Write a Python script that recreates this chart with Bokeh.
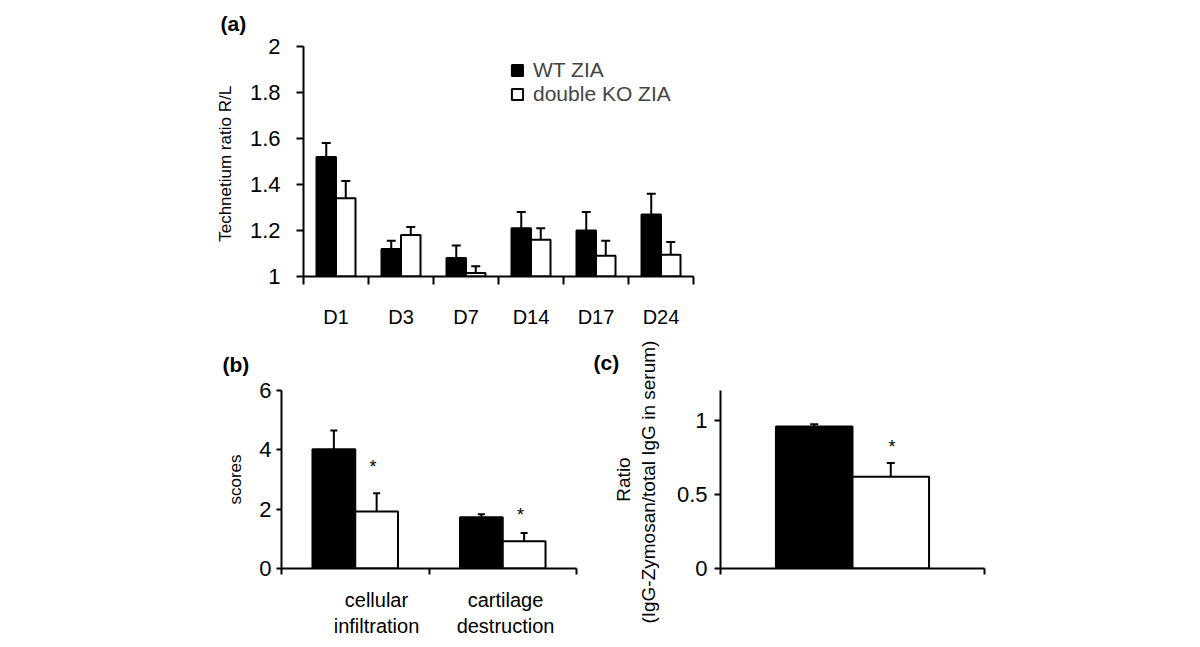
from bokeh.plotting import figure
from bokeh.models import (Range1d, FixedTicker, Whisker, TeeHead, ColumnDataSource,
                          Legend, LegendItem, Title)
from bokeh.layouts import column, row
from bokeh.core.properties import value
from bokeh.embed import file_html
from bokeh.resources import INLINE

# ---------------- data ----------------
days = ["D1", "D3", "D7", "D14", "D17", "D24"]
tech_wt = [1.52, 1.12, 1.08, 1.21, 1.20, 1.27]
tech_wt_err = [0.06, 0.035, 0.055, 0.07, 0.08, 0.09]
tech_ko = [1.34, 1.18, 1.015, 1.16, 1.09, 1.095]
tech_ko_err = [0.075, 0.035, 0.03, 0.05, 0.065, 0.055]
tech_ticks = [1, 1.2, 1.4, 1.6, 1.8, 2]
tech_tick_labels = ["1", "1.2", "1.4", "1.6", "1.8", "2"]

score_cats = ["cellular\ninfiltration", "cartilage\ndestruction"]
score_wt = [4.02, 1.73]
score_wt_err = [0.63, 0.10]
score_ko = [1.92, 0.92]
score_ko_err = [0.62, 0.28]
score_ticks = [0, 2, 4, 6]
score_star_y = [3.42, 1.82]

ratio_wt = [0.958]
ratio_wt_err = [0.014]
ratio_ko = [0.619]
ratio_ko_err = [0.093]
ratio_ticks = [0, 0.5, 1]
ratio_tick_labels = ["0", "0.5", "1"]
ratio_star_y = [0.822]

series_names = ["WT ZIA", "double KO ZIA"]
panel_titles = ["(a)", "(b)", "(c)"]
y_titles = ["Technetium  ratio R/L", "scores", "Ratio\n(IgG-Zymosan/total  IgG in serum)"]

FONT = "Liberation Sans"
HALF = 0.15


def base_style(p, tick_font="22px"):
    p.outline_line_color = None
    p.grid.visible = False
    p.background_fill_color = "white"
    p.border_fill_color = "white"
    for ax in (p.xaxis[0], p.yaxis[0]):
        ax.axis_line_width = 2
        ax.axis_line_color = "black"
        ax.major_tick_line_width = 2
        ax.major_tick_line_color = "black"
        ax.minor_tick_line_width = 2
        ax.minor_tick_line_color = "black"
        ax.major_tick_in = 0
        ax.minor_tick_in = 0
        ax.major_label_text_font = FONT
        ax.major_label_text_font_size = tick_font
        ax.major_label_text_color = "black"
        ax.axis_label_text_font = FONT
        ax.axis_label_text_font_style = "normal"
        ax.axis_label_text_color = "black"


def add_title(p, text, offset, standoff):
    p.add_layout(Title(text=text, align="left", offset=offset, standoff=standoff,
                       vertical_align="middle", text_font=FONT, text_font_size="21px",
                       text_font_style="bold", text_color="black"), "above")


def bars(p, centers, wt, wt_err, ko, ko_err, bottom, half, cap):
    src = ColumnDataSource(dict(
        xw=[c - half for c in centers], xk=[c + half for c in centers],
        wt=wt, ko=ko,
        wt_up=[v + e for v, e in zip(wt, wt_err)],
        ko_up=[v + e for v, e in zip(ko, ko_err)],
    ))
    for base, low, up in (("xw", "wt", "wt_up"), ("xk", "ko", "ko_up")):
        p.add_layout(Whisker(source=src, base=base, lower=low, upper=up,
                             dimension="height", line_width=2, line_color="black",
                             upper_head=TeeHead(size=cap, line_width=2, line_color="black"),
                             lower_head=None, level="underlay"))
    rw = p.vbar(x="xw", top="wt", bottom=bottom, width=2 * half, source=src,
                fill_color="black", line_color="black", line_width=2)
    rk = p.vbar(x="xk", top="ko", bottom=bottom, width=2 * half, source=src,
                fill_color="white", line_color="black", line_width=2)
    return rw, rk


# ---------------- panel (a) ----------------
pa = figure(width=708, height=330, x_range=Range1d(0.5, 6.5), y_range=Range1d(1, 2),
            output_backend="svg", toolbar_location=None,
            min_border_left=303, min_border_right=15, min_border_top=45, min_border_bottom=52)
base_style(pa)
xa = list(range(1, len(days) + 1))
pa.xaxis.ticker = FixedTicker(ticks=xa, minor_ticks=[c - 0.5 for c in xa] + [xa[-1] + 0.5])
pa.xaxis.major_label_overrides = {c: d for c, d in zip(xa, days)}
pa.xaxis.major_label_text_font_size = "20px"
pa.xaxis.major_tick_out = 0
pa.xaxis.minor_tick_out = 8
pa.xaxis.major_label_standoff = 21
pa.yaxis.ticker = FixedTicker(ticks=tech_ticks)
pa.yaxis.major_label_overrides = {float(t): s for t, s in zip(tech_ticks, tech_tick_labels)}
pa.yaxis.major_tick_out = 7
pa.yaxis.major_label_standoff = 16
pa.yaxis.axis_label = y_titles[0]
pa.yaxis.axis_label_text_font_size = "17px"
pa.yaxis.axis_label_standoff = 12
rw, rk = bars(pa, xa, tech_wt, tech_wt_err, tech_ko, tech_ko_err, 1, HALF, 9)
legend = Legend(items=[LegendItem(label=series_names[0], renderers=[rw]),
                       LegendItem(label=series_names[1], renderers=[rk])],
                location=(207, 170), glyph_width=14, glyph_height=14, label_standoff=9,
                label_text_font=FONT, label_text_font_size="21px", padding=0, spacing=0,
                border_line_color=None, background_fill_alpha=0, margin=0, label_height=20)
pa.add_layout(legend)
add_title(pa, panel_titles[0], -83, 21)

# ---------------- panel (b) ----------------
pb = figure(width=580, height=309, x_range=Range1d(0, 2), y_range=Range1d(0, 6),
            output_backend="svg", toolbar_location=None,
            min_border_left=281, min_border_right=4, min_border_top=59, min_border_bottom=59)
base_style(pb)
label_pos_b = [0.644, 1.519]
pb.xaxis.ticker = FixedTicker(ticks=label_pos_b, minor_ticks=[0, 1, 2])
pb.xaxis.major_label_overrides = {x: c for x, c in zip(label_pos_b, score_cats)}
pb.xaxis.major_label_text_font_size = "20px"
pb.xaxis.major_tick_out = 0
pb.xaxis.minor_tick_out = 6
pb.xaxis.major_label_standoff = 14
pb.yaxis.ticker = FixedTicker(ticks=score_ticks)
pb.yaxis.major_tick_out = 5
pb.yaxis.major_label_standoff = 5
pb.yaxis.axis_label = y_titles[1]
pb.yaxis.axis_label_text_font_size = "17px"
pb.yaxis.axis_label_standoff = 11
xb = [i + 0.5 for i in range(len(score_ko))]
bars(pb, xb, score_wt, score_wt_err, score_ko, score_ko_err, 0, HALF - 0.005, 7)
pb.text(x=[c + HALF - 0.03 for c in xb], y=score_star_y, text=["*"] * len(xb),
        text_font=value(FONT), text_font_size="18px", text_align="center",
        text_baseline="middle", text_color="black")
add_title(pb, panel_titles[1], -59, 27)

# ---------------- panel (c) ----------------
pc = figure(width=420, height=309, x_range=Range1d(0, 1), y_range=Range1d(0, 1.2),
            output_backend="svg", toolbar_location=None,
            min_border_left=140, min_border_right=16, min_border_top=60, min_border_bottom=61)
base_style(pc)
pc.xaxis.ticker = FixedTicker(ticks=[], minor_ticks=[0, 1])
pc.xaxis.major_tick_out = 0
pc.xaxis.minor_tick_out = 6
pc.yaxis.ticker = FixedTicker(ticks=ratio_ticks)
pc.yaxis.major_label_overrides = {float(t): s for t, s in zip(ratio_ticks, ratio_tick_labels)}
pc.yaxis.major_tick_out = 6
pc.yaxis.major_label_standoff = 7
pc.yaxis.axis_label = y_titles[2]
pc.yaxis.axis_label_text_font_size = "19px"
pc.yaxis.axis_label_standoff = 15
bars(pc, [0.5], ratio_wt, ratio_wt_err, ratio_ko, ratio_ko_err, 0, HALF - 0.005, 8)
pc.text(x=[0.5 + HALF], y=ratio_star_y, text=["*"], text_font=value(FONT),
        text_font_size="18px", text_align="center", text_baseline="middle", text_color="black")
add_title(pc, panel_titles[2], -127, 31)

layout = column(pa, row(pb, pc, spacing=0), spacing=0)
open("out.html", "w").write(file_html(layout, INLINE))
